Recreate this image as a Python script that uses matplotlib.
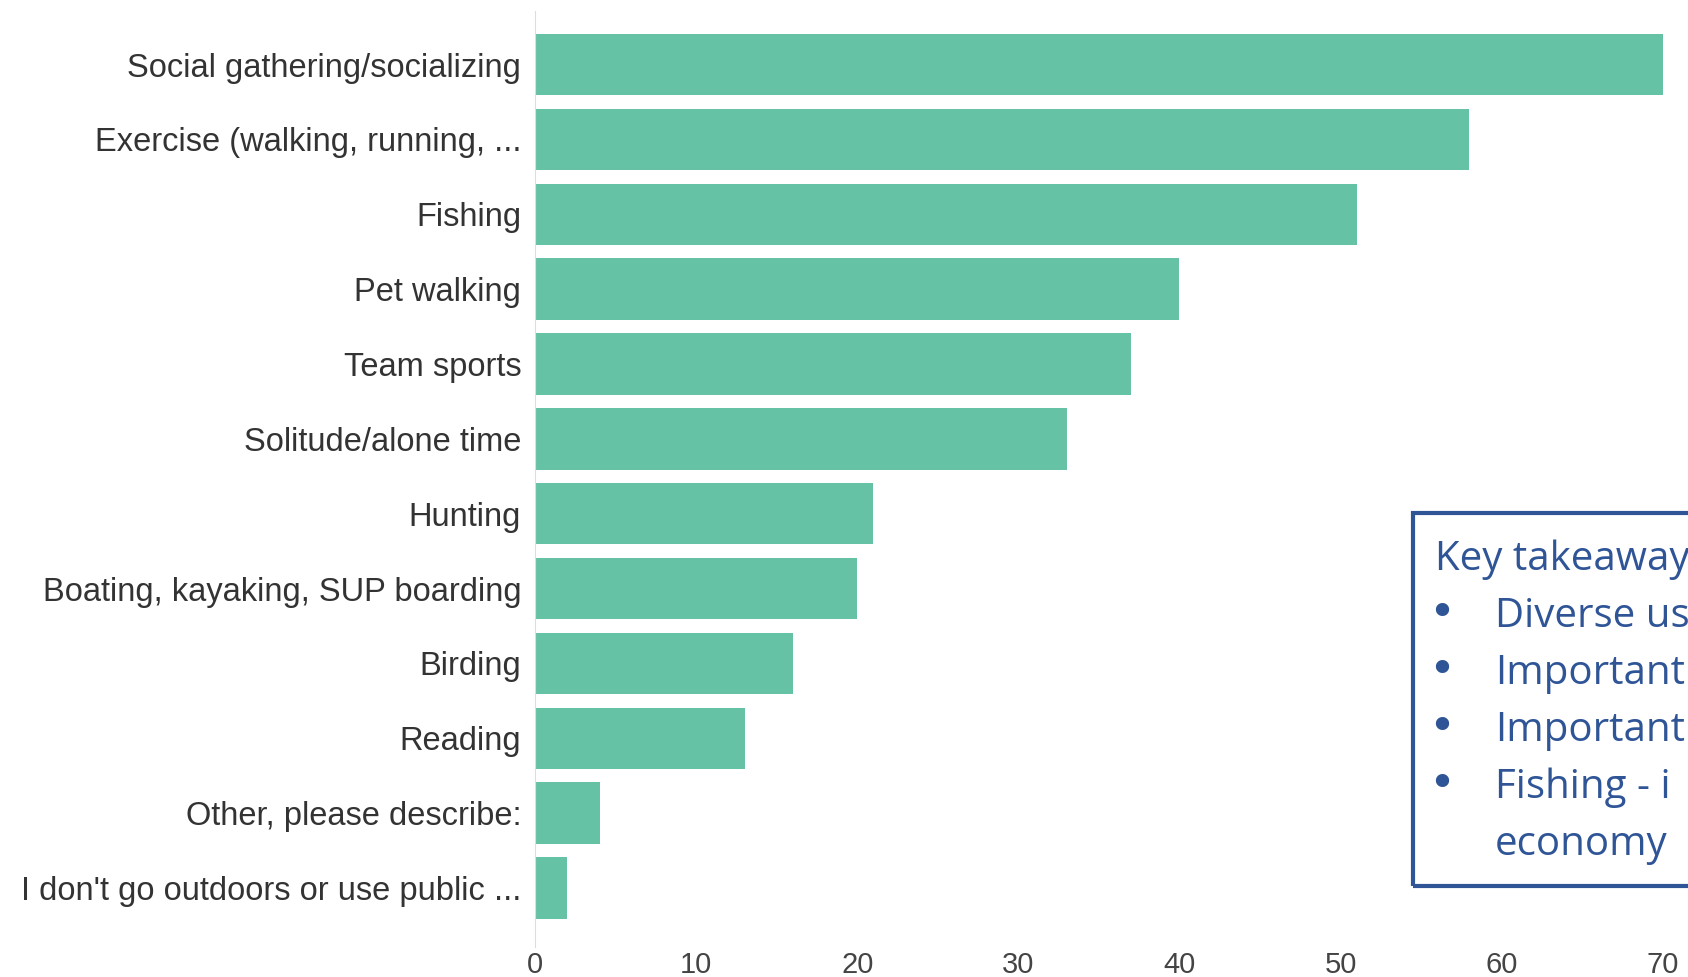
import matplotlib.pyplot as plt
from matplotlib.patches import Rectangle

categories = [
    "Social gathering/socializing",
    "Exercise (walking, running, ...",
    "Fishing",
    "Pet walking",
    "Team sports",
    "Solitude/alone time",
    "Hunting",
    "Boating, kayaking, SUP boarding",
    "Birding",
    "Reading",
    "Other, please describe:",
    "I don't go outdoors or use public ...",
]
counts = [70, 58, 51, 40, 37, 33, 21, 20, 16, 13, 4, 2]
x_ticks = [0, 10, 20, 30, 40, 50, 60, 70]

box_lines = ["Key takeaway", "Diverse us", "Important", "Important", "Fishing - i", "economy"]
box_bullets = [False, True, True, True, True, False]

fig = plt.figure(figsize=(16.88, 9.77), dpi=100)
ax = fig.add_axes([0.317, 0.0307, 0.668, 0.958])

pos = list(range(len(categories)))
ax.barh(pos, counts, height=0.82, color="#66C2A5")
ax.set_ylim(11.79, -0.716)
ax.set_xlim(0, 70)
ax.set_yticks(pos)
ax.set_yticklabels(categories, fontsize=23.5, color="#333333", family="Liberation Sans")
ax.set_xticks(x_ticks)
ax.set_xticklabels([str(t) for t in x_ticks], fontsize=21, color="#444444", family="Liberation Sans")
ax.tick_params(axis="both", length=0)
ax.tick_params(axis="y", pad=10)
ax.tick_params(axis="x", pad=3)
for s in ["top", "right", "bottom"]:
    ax.spines[s].set_visible(False)
ax.spines["left"].set_color("#dddddd")

# takeaway box, cut off at the right edge like the slide crop
blue = "#2F5597"
fig.patches.append(Rectangle((0.837, 0.093), 0.2, 0.382, transform=fig.transFigure,
                             fill=False, edgecolor=blue, linewidth=3, clip_on=False))
y0 = 1 - 570 / 977
step = 57 / 977
for i, (t, b) in enumerate(zip(box_lines, box_bullets)):
    y = y0 - i * step
    if b:
        fig.text(1428 / 1688, y, "•", color=blue, fontsize=33, family="DejaVu Sans", va="baseline")
    xt = 1435 / 1688 if i == 0 else 1495 / 1688
    fig.text(xt, y, t, color=blue, fontsize=29, family="Open Sans", va="baseline")

fig.savefig("out.png", dpi=100)
